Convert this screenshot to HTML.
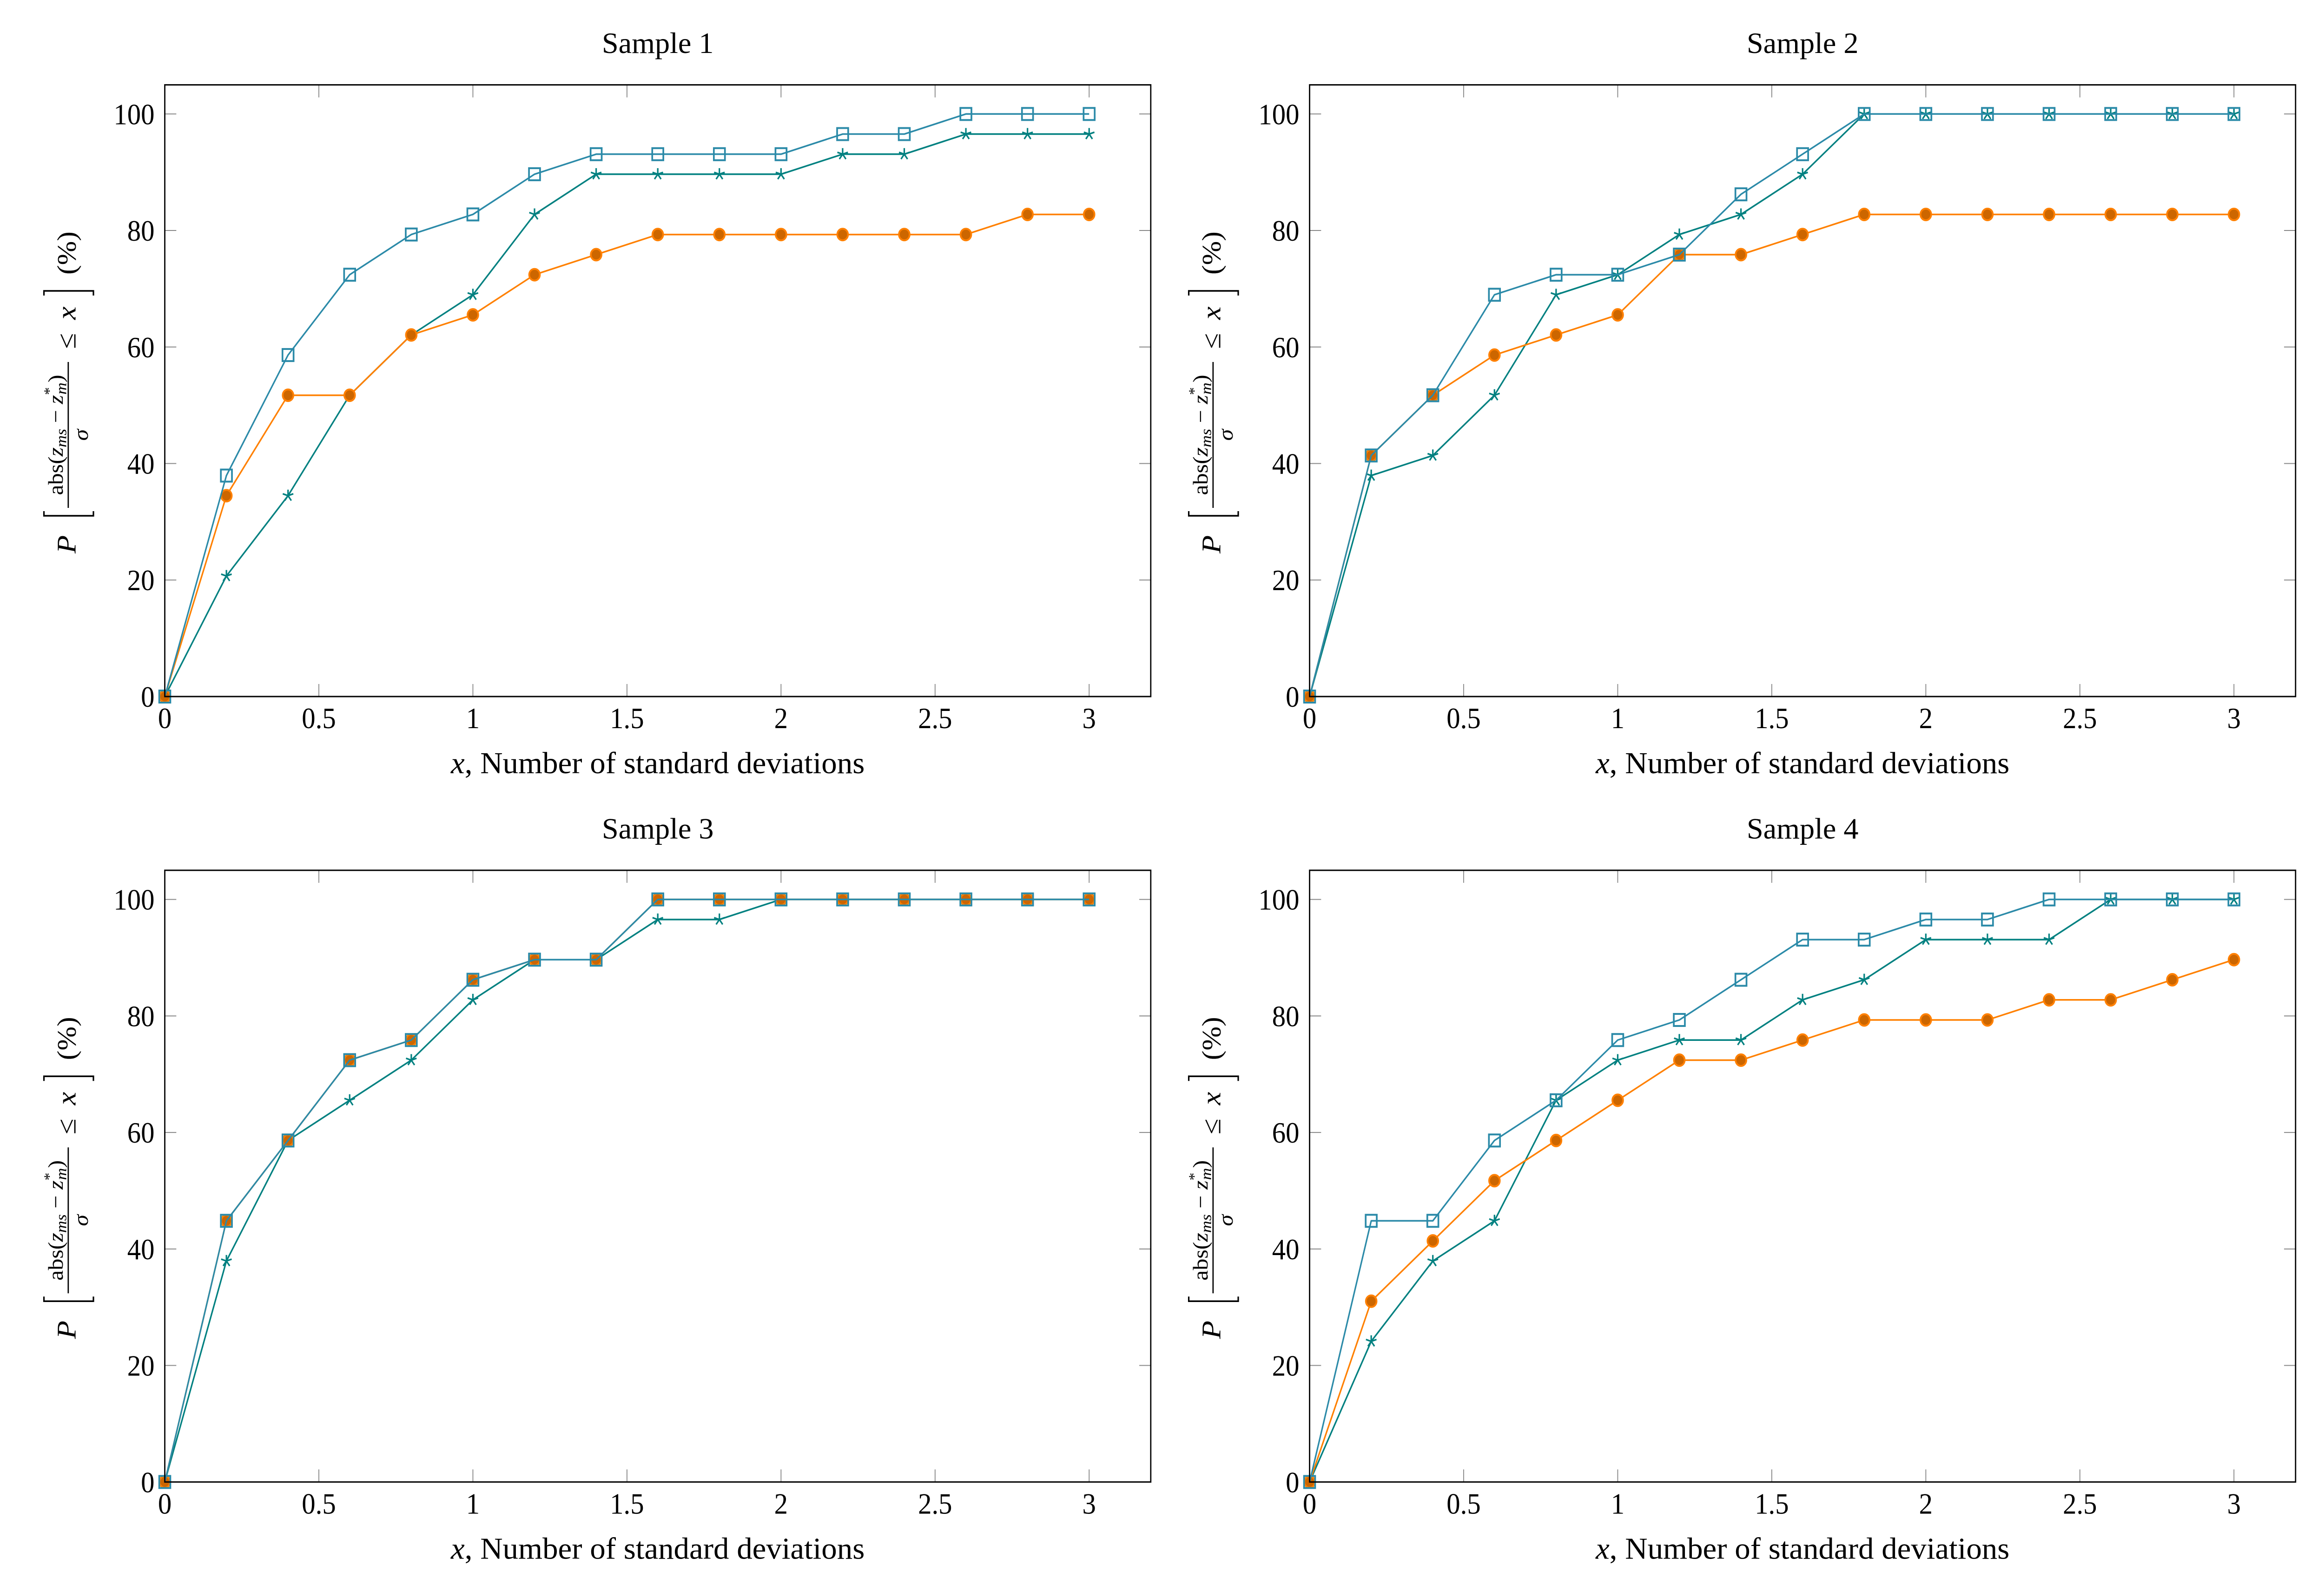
<!DOCTYPE html>
<html><head><meta charset="utf-8"><style>
html,body{margin:0;padding:0;background:#fff;width:100%;height:100%;overflow:hidden;}
svg{display:block;width:100vw;height:100vh;}
text{font-family:"Liberation Serif",serif;fill:#000;}
</style></head><body>
<svg id="fig" viewBox="0 0 5448 3411" preserveAspectRatio="none" xmlns="http://www.w3.org/2000/svg"></svg>
<script>
const xValues=[0,0.2,0.4,0.6,0.8,1,1.2,1.4,1.6,1.8,2,2.2,2.4,2.6,2.8,3];
const xTicks=[0,0.5,1,1.5,2,2.5,3];
const xTickLabels=["0","0.5","1","1.5","2","2.5","3"];
const yTicks=[0,20,40,60,80,100];
const yTickLabels=["0","20","40","60","80","100"];
const titles=["Sample 1","Sample 2","Sample 3","Sample 4"];
const s1Square=[0,37.93,58.62,72.41,79.31,82.76,89.66,93.10,93.10,93.10,93.10,96.55,96.55,100,100,100];
const s1Star=[0,20.69,34.48,51.72,62.07,68.97,82.76,89.66,89.66,89.66,89.66,93.10,93.10,96.55,96.55,96.55];
const s1Circle=[0,34.48,51.72,51.72,62.07,65.52,72.41,75.86,79.31,79.31,79.31,79.31,79.31,79.31,82.76,82.76];
const s2Square=[0,41.38,51.72,68.97,72.41,72.41,75.86,86.21,93.10,100,100,100,100,100,100,100];
const s2Star=[0,37.93,41.38,51.72,68.97,72.41,79.31,82.76,89.66,100,100,100,100,100,100,100];
const s2Circle=[0,41.38,51.72,58.62,62.07,65.52,75.86,75.86,79.31,82.76,82.76,82.76,82.76,82.76,82.76,82.76];
const s3Square=[0,44.83,58.62,72.41,75.86,86.21,89.66,89.66,100,100,100,100,100,100,100,100];
const s3Star=[0,37.93,58.62,65.52,72.41,82.76,89.66,89.66,96.55,96.55,100,100,100,100,100,100];
const s3Circle=[0,44.83,58.62,72.41,75.86,86.21,89.66,89.66,100,100,100,100,100,100,100,100];
const s4Square=[0,44.83,44.83,58.62,65.52,75.86,79.31,86.21,93.10,93.10,96.55,96.55,100,100,100,100];
const s4Star=[0,24.14,37.93,44.83,65.52,72.41,75.86,75.86,82.76,86.21,93.10,93.10,93.10,100,100,100];
const s4Circle=[0,31.03,41.38,51.72,58.62,65.52,72.41,72.41,75.86,79.31,79.31,79.31,82.76,82.76,86.21,89.66];

const squares=[s1Square,s2Square,s3Square,s4Square];
const stars=[s1Star,s2Star,s3Star,s4Star];
const circles=[s1Circle,s2Circle,s3Circle,s4Circle];

const NS="http://www.w3.org/2000/svg";
const svg=document.getElementById('fig');
function mk(tag,attrs,parent){const e=document.createElementNS(NS,tag);for(const k in attrs)e.setAttribute(k,attrs[k]);(parent||svg).appendChild(e);return e;}

const X0=386.3, Y0=1499, XS=722.3, YS=12.537;
const COLOFF=2683.7, ROWOFF=1690.3;
const XMAX=3.2, YMAX=105;

for(let p=0;p<4;p++){
  const ox=(p%2)*COLOFF, oy=Math.floor(p/2)*ROWOFF;
  const sx=v=>X0+ox+v*XS;
  const sy=v=>Y0+oy-v*YS;
  const g=mk('g',{});
  
  
  const L=sx(0),R=sx(XMAX),T=sy(YMAX),B=sy(0);
  xTicks.forEach((t,i)=>{
    const x=sx(t);
    const tk=mk('path',{d:`M${x},${B}v-27M${x},${T}v27`,stroke:'#888',"stroke-width":2,fill:'none'},g);
    
    
    const lb=mk('text',{x:x,y:B+68,"font-size":64,"text-anchor":"middle"},g);
    lb.textContent=xTickLabels[i];
    
    
  });
  yTicks.forEach((t,i)=>{
    const y=sy(t);
    const tk=mk('path',{d:`M${L},${y}h27M${R},${y}h-27`,stroke:'#888',"stroke-width":2,fill:'none'},g);
    
    
    const lb=mk('text',{x:L-24,y:y+22,"font-size":64,"text-anchor":"end"},g);
    lb.textContent=yTickLabels[i];
    
    
  });
  const tt=mk('text',{x:(L+R)/2,y:oy+114,"font-size":64,"text-anchor":"middle",textLength:262,lengthAdjust:"spacingAndGlyphs"},g);
  tt.textContent=titles[p];
  
  
  const xl=mk('text',{x:(L+R)/2,y:oy+1664,"font-size":66,"text-anchor":"middle",textLength:970,lengthAdjust:"spacingAndGlyphs"},g);
  xl.innerHTML='<tspan font-style="italic">x</tspan>, Number of standard deviations';
  
  
  const yl=mk('g',{transform:`translate(${160+ox},${1191+oy}) rotate(-90)`},g);
  
  
  const pT=mk('text',{x:0,y:17,"font-size":64,"font-style":"italic"},yl);pT.textContent='P';
  mk('path',{d:'M91,-57H81V59H91M555,-57H565V59H555',stroke:'#000',"stroke-width":3.5,fill:'none'},yl);
  mk('line',{x1:98,y1:0,x2:412,y2:0,stroke:'#000',"stroke-width":3},yl);
  const num=mk('text',{x:255,y:-13,"font-size":50,"text-anchor":"middle"},yl);
  num.innerHTML='abs(<tspan font-style="italic">z</tspan><tspan font-style="italic" font-size="36" dy="8">ms</tspan><tspan dy="-8"> − </tspan><tspan font-style="italic">z</tspan><tspan font-size="34" dy="-20">*</tspan><tspan font-style="italic" font-size="36" dx="-16" dy="28">m</tspan><tspan dy="-8">)</tspan>';
  const den=mk('text',{x:255,y:46,"font-size":50,"font-style":"italic","text-anchor":"middle"},yl);den.textContent='σ';
  const le=mk('text',{x:440,y:17,"font-size":62},yl);le.textContent='≤';
  const xv=mk('text',{x:503,y:17,"font-size":64,"font-style":"italic"},yl);xv.textContent='x';
  const pc=mk('text',{x:600,y:17,"font-size":62},yl);pc.textContent='(%)';

  function line(arr,color,name){
    const pts=arr.map((v,i)=>sx(xValues[i])+','+sy(v)).join(' ');
    const pl=mk('polyline',{points:pts,fill:'none',stroke:color,"stroke-width":3.5,"stroke-linejoin":"round"},g);
    
    
  }
  line(stars[p],'#008080','star-series-line');
  stars[p].forEach((v,i)=>{
    const cx=sx(xValues[i]),cy=sy(v);let d='';
    for(let k=0;k<5;k++){const a=(90+72*k)*Math.PI/180;d+=`M${cx},${cy}L${cx+13*Math.cos(a)},${cy-13*Math.sin(a)}`;}
    const m=mk('path',{d:d,stroke:'#008080',"stroke-width":3.5,fill:'none'},g);
    
    
  });
  line(circles[p],'#ff8000','circle-series-line');
  circles[p].forEach((v,i)=>{
    const m=mk('circle',{cx:sx(xValues[i]),cy:sy(v),r:12.5,fill:'#cc6600',stroke:'#ff8000',"stroke-width":4},g);
    
    
  });
  line(squares[p],'#2b8aa8','square-series-line');
  squares[p].forEach((v,i)=>{
    const m=mk('rect',{x:sx(xValues[i])-13,y:sy(v)-13,width:26,height:26,fill:'none',stroke:'#2b8aa8',"stroke-width":4},g);
    
    
  });
  const fr=mk('rect',{x:L,y:T,width:R-L,height:B-T,fill:'none',stroke:'#000',"stroke-width":3},g);
  
  
}
</script>
</body></html>
